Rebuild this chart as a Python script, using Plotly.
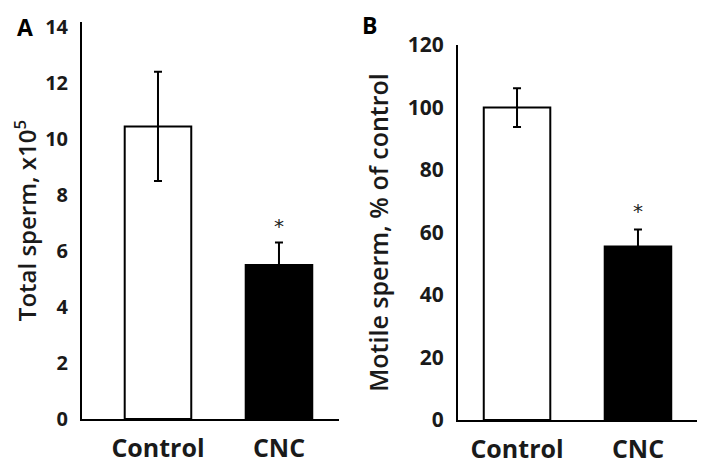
import plotly.graph_objects as go

# Datos
grupos = ["Control", "CNC"]
total_esperma = [10.45, 5.5]
total_error = [1.95, 0.8]
moviles = [100.0, 55.5]
moviles_error = [6.2, 5.5]
colores_barra = ["white", "black"]

ticks_a = [0, 2, 4, 6, 8, 10, 12, 14]
ticks_b = [0, 20, 40, 60, 80, 100, 120]

fuente = "Open Sans"
# la página tiene 8px de margen en el body
OFF = 8
W, H = 708 - OFF, 465 - OFF


def px_x(p):
    return (p - OFF) / W


def px_y(p):
    return 1 - (p - OFF) / H


fig = go.Figure()

fig.add_trace(go.Bar(
    x=grupos, y=total_esperma, width=0.55,
    marker=dict(color=colores_barra, line=dict(color="black", width=2)),
    error_y=dict(type="data", array=total_error, color="black",
                 thickness=2, width=4),
    xaxis="x", yaxis="y", showlegend=False
))

fig.add_trace(go.Bar(
    x=grupos, y=moviles, width=0.55,
    marker=dict(color=colores_barra, line=dict(color="black", width=2)),
    error_y=dict(type="data", array=moviles_error, color="black",
                 thickness=2, width=4),
    xaxis="x2", yaxis="y2", showlegend=False
))

eje_x = dict(showline=True, linecolor="black", linewidth=2, ticks="",
             showgrid=False, zeroline=False, automargin=False,
             ticklabelstandoff=6,
             tickfont=dict(family=fuente, size=25, color="#1a1a1a", weight="bold"))
eje_y = dict(showline=True, linecolor="black", linewidth=2, ticks="",
             showgrid=False, zeroline=False, automargin=False,
             ticklabelstandoff=8)

fig.update_layout(
    width=W, height=H,
    paper_bgcolor="white", plot_bgcolor="white",
    margin=dict(l=0, r=0, t=0, b=0),
    xaxis=dict(eje_x, domain=[px_x(82), px_x(339)], range=[-0.628, 1.496],
               anchor="y"),
    yaxis=dict(eje_y, domain=[px_y(419), px_y(22)], range=[0, 14.18],
               tickvals=ticks_a, anchor="x",
               tickfont=dict(family=fuente, size=20, color="#1a1a1a", weight="bold"),
               title=dict(text="Total sperm, x10<sup>5</sup>", standoff=14,
                          font=dict(family=fuente, size=24, color="#1a1a1a",
                                    weight=600))),
    xaxis2=dict(eje_x, domain=[px_x(458), px_x(697)], range=[-0.488, 1.488],
                anchor="y2"),
    yaxis2=dict(eje_y, domain=[px_y(420), px_y(45)], range=[0, 120],
                tickvals=ticks_b, anchor="x2",
                tickfont=dict(family=fuente, size=21, color="#1a1a1a", weight="bold"),
                title=dict(text="Motile sperm, % of control", standoff=12,
                           font=dict(family=fuente, size=25, color="#1a1a1a",
                                     weight=600))),
)

# asteriscos de significancia
fig.add_annotation(x="CNC", y=total_esperma[1] + total_error[1] + 0.6,
                   xref="x", yref="y", text="*", showarrow=False,
                   font=dict(family="DejaVu Sans", size=20, color="#222222"))
fig.add_annotation(x="CNC", y=moviles[1] + moviles_error[1] + 6,
                   xref="x2", yref="y2", text="*", showarrow=False,
                   font=dict(family="DejaVu Sans", size=20, color="#222222"))

# letras de panel
fig.add_annotation(x=px_x(25), y=px_y(27), xref="paper", yref="paper",
                   xanchor="center", yanchor="middle",
                   text="<b>A</b>", showarrow=False,
                   font=dict(family=fuente, size=23, color="black"))
fig.add_annotation(x=px_x(369), y=px_y(25), xref="paper", yref="paper",
                   xanchor="center", yanchor="middle",
                   text="<b>B</b>", showarrow=False,
                   font=dict(family=fuente, size=23, color="black"))

fig.write_html("out.html")
